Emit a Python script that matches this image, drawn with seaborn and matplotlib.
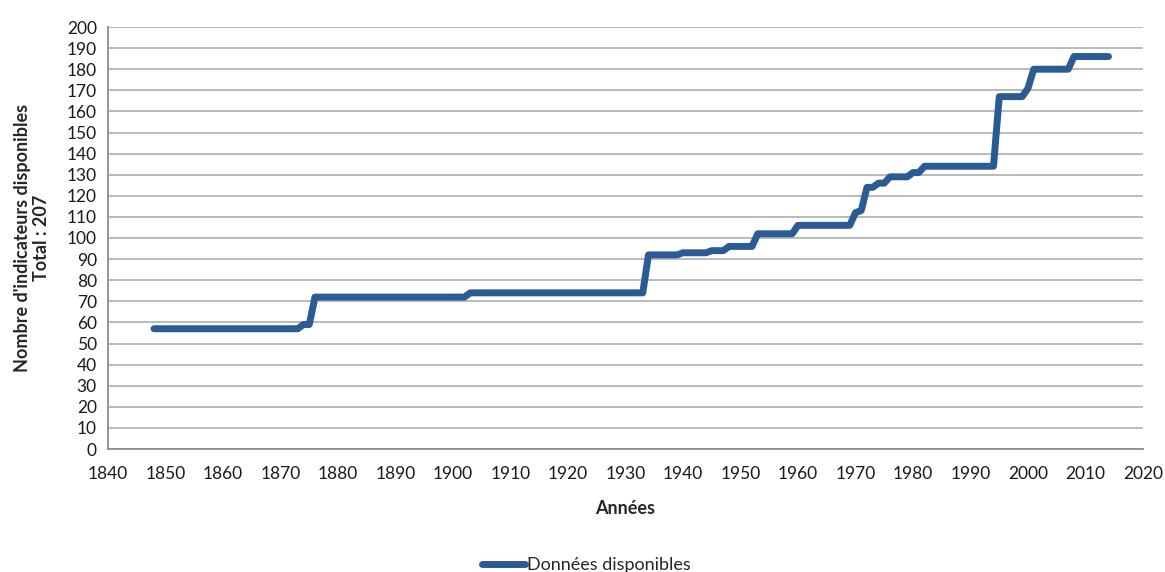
import matplotlib
matplotlib.use("Agg")
import matplotlib.pyplot as plt
import seaborn as sns

# Nombre d'indicateurs disponibles par année
annees = list(range(1848, 2015))
paliers = [
    (1848, 57), (1874, 59), (1876, 72), (1903, 74), (1934, 92),
    (1940, 93), (1945, 94), (1948, 96), (1953, 102), (1960, 106),
    (1970, 112), (1971, 113), (1972, 124), (1974, 126), (1976, 129),
    (1980, 131), (1982, 134), (1995, 167), (2000, 171), (2001, 180),
    (2008, 186),
]
debuts = [p[0] for p in paliers]
niveaux = [p[1] for p in paliers]

valeurs = []
for a in annees:
    v = niveaux[0]
    for d, n in zip(debuts, niveaux):
        if a >= d:
            v = n
    valeurs.append(v)

x_ticks = list(range(1840, 2021, 10))
y_ticks = list(range(0, 201, 10))

sns.set_style("white")
plt.rcParams["font.family"] = ["Lato", "DejaVu Sans"]

fig = plt.figure(figsize=(11.65, 5.72), dpi=100)
ax = fig.add_axes([108 / 1165, 123 / 572, 1035 / 1165, 422 / 572])

sns.lineplot(x=annees, y=valeurs, ax=ax, color="#2a5b94", linewidth=5,
             solid_capstyle="round", solid_joinstyle="round",
             label="Données disponibles")

ax.set_xlim(1840, 2020)
ax.set_ylim(0, 200)
ax.set_xticks(x_ticks)
ax.set_yticks(y_ticks)
ax.tick_params(axis="both", labelsize=12.5, length=5, width=1.2,
               color="#8c8c8c", labelcolor="#1a1a1a", direction="out", pad=3)
ax.tick_params(axis="x", pad=7)

ax.grid(axis="y", color="#b4b4b4", linewidth=1.3)
ax.set_axisbelow(True)
for s in ["top", "right"]:
    ax.spines[s].set_visible(False)
for s in ["left", "bottom"]:
    ax.spines[s].set_color("#8c8c8c")
    ax.spines[s].set_linewidth(1.3)

ax.set_xlabel("Années", fontsize=13, fontweight="bold")
ax.xaxis.set_label_coords(0.5, -0.12)
ax.set_ylabel("Nombre d'indicateurs disponibles\nTotal : 207", fontsize=13,
              fontweight="bold", linespacing=1.15)
ax.yaxis.set_label_coords(-0.056, 0.5)

ax.get_legend().remove()
fig.legend(loc="lower center", bbox_to_anchor=(0.503, -0.03), frameon=False,
           fontsize=13, handlelength=2.4, handletextpad=0.1)

fig.savefig("out.png", dpi=100)
